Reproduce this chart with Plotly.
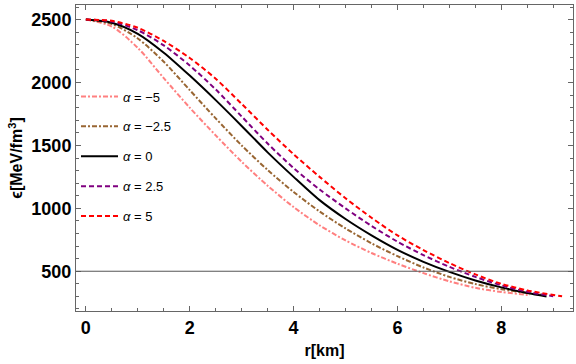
import plotly.graph_objects as go

# radius grid (km) shared by the curves, each curve then has its own end point
r_grid = [0, 0.5, 1.0, 1.5, 2.0, 2.5, 3.0, 3.5, 4.0, 4.5, 5.0, 5.5, 6.0, 6.5, 7.0, 7.5, 8.0, 8.5]

alphas = ["−5", "−2.5", "0", "2.5", "5"]
r_end = [8.55, 8.8, 8.87, 9.0, 9.17]

eps_m5 = [2500, 2445, 2275, 2035, 1800, 1580, 1370, 1180, 1010, 865, 745, 645, 560, 485, 420, 368, 335, 312]
eps_m25 = [2500, 2465, 2350, 2165, 1940, 1715, 1500, 1305, 1130, 975, 840, 722, 620, 530, 455, 398, 357, 327]
eps_0 = [2500, 2475, 2387, 2237, 2055, 1860, 1655, 1445, 1250, 1065, 915, 785, 670, 575, 495, 427, 372, 327]
eps_25 = [2500, 2485, 2415, 2295, 2135, 1945, 1730, 1515, 1320, 1150, 1000, 860, 735, 628, 535, 455, 388, 337]
eps_5 = [2500, 2490, 2435, 2330, 2195, 2030, 1830, 1625, 1430, 1250, 1080, 925, 785, 668, 565, 475, 400, 348]
eps_end = [310, 312, 300, 302, 301]

eps_line = 500

series = [eps_m5, eps_m25, eps_0, eps_25, eps_5]
colors = ["#FF8080", "#996633", "#000000", "#800080", "#FF0000"]
dashes = ["5px,2px,2px,2px", "5px,2px,2px,2px", "solid", "5px,3px", "5px,3px"]

fig = go.Figure()

for i, eps in enumerate(series):
    # keep only grid points before this curve's end radius
    rr = [r for r in r_grid if r < r_end[i]] + [r_end[i]]
    ee = eps[:len(rr) - 1] + [eps_end[i]]
    fig.add_trace(go.Scatter(
        x=rr,
        y=ee,
        mode="lines",
        name="<i>α</i> = " + alphas[i],
        legendgroup=str(i),
        line=dict(color=colors[i], width=2, dash=dashes[i], shape="spline", smoothing=0.8),
    ))

fig.add_hline(y=eps_line, line=dict(color="#555555", width=1))

axis_common = dict(
    showline=True,
    linecolor="#666666",
    linewidth=1,
    mirror="allticks",
    ticks="inside",
    ticklen=5,
    tickcolor="#666666",
    showgrid=False,
    zeroline=False,
    tickfont=dict(family="Liberation Sans", size=18, color="black", weight="bold"),
)

fig.update_layout(
    width=576,
    height=364,
    paper_bgcolor="white",
    plot_bgcolor="white",
    margin=dict(l=76, r=3, t=5, b=53),
    showlegend=True,
    legend=dict(
        x=0.0,
        xanchor="left",
        y=0.75,
        yanchor="top",
        bgcolor="rgba(0,0,0,0)",
        font=dict(family="Liberation Sans", size=13, color="black"),
        tracegroupgap=10,
        itemwidth=37,
    ),
    xaxis=dict(
        axis_common,
        range=[-0.19, 9.38],
        tickvals=[0, 2, 4, 6, 8],
        minor=dict(dtick=0.5, ticks="inside", ticklen=3, tickcolor="#666666"),
        title=dict(text="r[km]", font=dict(family="Liberation Sans", size=16, color="black", weight="bold"), standoff=8),
    ),
    yaxis=dict(
        axis_common,
        range=[184, 2616],
        tickvals=[500, 1000, 1500, 2000, 2500],
        minor=dict(dtick=100, ticks="inside", ticklen=3, tickcolor="#666666"),
        title=dict(text="ϵ[MeV/fm<sup>3</sup>]", font=dict(family="Liberation Sans", size=16, color="black", weight="bold"), standoff=4),
    ),
)

fig.write_html(
    "out.html",
    config={"displayModeBar": False},
    post_script="document.body.style.margin='0';",
)
